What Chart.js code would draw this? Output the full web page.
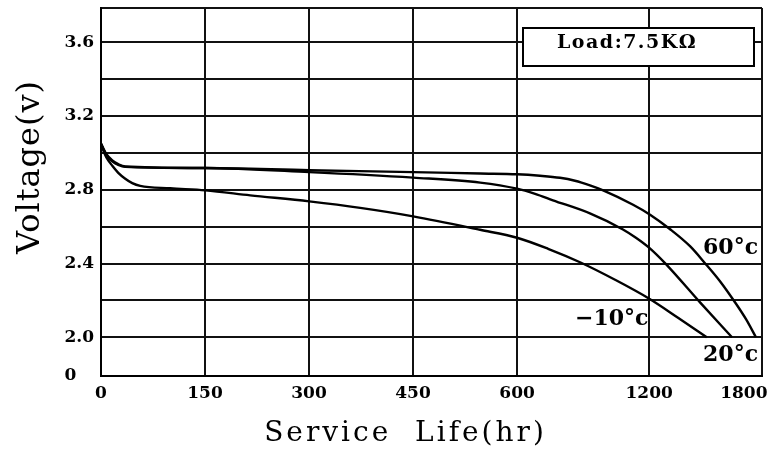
<!DOCTYPE html>
<html>
<head>
<meta charset="utf-8">
<script src="https://cdn.jsdelivr.net/npm/chart.js@4.4.1/dist/chart.umd.min.js"></script>
<style>
  html, body { margin: 0; padding: 0; background: #ffffff; }
  #wrap { width: 781px; height: 455px; position: relative; }
</style>
</head>
<body>
<div id="wrap"><canvas id="chart" width="781" height="455"></canvas></div>
<script>
// ---------------- data ----------------
const xTickHours  = [0, 150, 300, 450, 600, 1200, 1800];
const xTickLabels = ['0', '150', '300', '450', '600', '1200', '1800'];

const yTickValues = [2.0, 2.2, 2.4, 2.6, 2.8, 3.0, 3.2, 3.4, 3.6];
const yTickLabels = ['2.0', '', '2.4', '', '2.8', '', '3.2', '', '3.6'];
const yBreakLabel = '0';

const seriesNames = ['\u221210\u00b0c', '20\u00b0c', '60\u00b0c'];

const hoursM10 = [0, 3.3, 7.6, 16.3, 24.9, 35, 45.1, 56.6, 99.9, 150.4, 215.2, 300.3, 373.8, 450.2, 546.8, 600, 741, 886, 1045, 1201, 1383, 1565];
const voltsM10 = [3.05, 3.014, 2.977, 2.93, 2.892, 2.86, 2.836, 2.821, 2.808, 2.797, 2.77, 2.737, 2.702, 2.656, 2.583, 2.54, 2.48, 2.407, 2.312, 2.209, 2.106, 2.0];

const hours20 = [0, 3.3, 7.6, 16.3, 24.9, 35, 150.4, 300.3, 450.2, 546.8, 600, 682, 763, 931, 1081, 1140, 1201, 1302, 1524, 1725];
const volts20 = [3.05, 3.024, 2.99, 2.954, 2.935, 2.924, 2.918, 2.896, 2.866, 2.839, 2.806, 2.778, 2.743, 2.672, 2.585, 2.54, 2.485, 2.401, 2.188, 2.0];

const hours60 = [0, 3.3, 7.6, 16.3, 24.9, 35, 150.4, 300.3, 450.2, 546.8, 600, 704, 795, 863, 931, 991, 1127, 1206, 1333, 1459, 1554, 1649, 1744, 1814, 1877];
const volts60 = [3.05, 3.024, 2.994, 2.959, 2.939, 2.926, 2.918, 2.906, 2.896, 2.888, 2.884, 2.876, 2.865, 2.849, 2.824, 2.797, 2.719, 2.665, 2.586, 2.494, 2.402, 2.304, 2.19, 2.098, 2.0];

const loadText = 'Load:7.5K\u03a9';
const xTitle = 'Service  Life(hr)';
const yTitle = 'Voltage(v)';

// ---------------- scale layout (non-uniform time axis) ----------------
const X_SLOTS = [0, 1, 2, 3, 4, 5.27, 6.18];   // axis position of each labelled hour
const X_MAX = 6.355;
const Y_MIN = 1.79, Y_MAX = 3.786;

function hoursToAxis(h) {
  const n = xTickHours.length;
  let i = 0;
  while (i < n - 2 && h > xTickHours[i + 1]) i++;
  const h0 = xTickHours[i], h1 = xTickHours[i + 1];
  return X_SLOTS[i] + (h - h0) / (h1 - h0) * (X_SLOTS[i + 1] - X_SLOTS[i]);
}
function toPoints(hours, volts) {
  return hours.map((h, k) => ({ x: hoursToAxis(h), y: volts[k] }));
}

function patchTitle(scale, spacing, dx, dy) {
  if (scale._titlePatched) return;
  scale._titlePatched = true;
  const orig = scale.drawTitle;
  if (typeof orig !== 'function') return;
  scale.drawTitle = function () {
    const ctx = this.ctx;
    ctx.save();
    try { ctx.letterSpacing = spacing; } catch (e) {}
    ctx.translate(dx, dy);
    orig.apply(this, arguments);
    ctx.restore();
  };
}

const SERIF = "'DejaVu Serif', 'Liberation Serif', serif";

const notesPlugin = {
  id: 'curveNotes',
  afterDatasetsDraw(chart, args, opts) {
    const { ctx, chartArea, scales } = chart;
    const x = scales.x, y = scales.y;
    ctx.save();
    // curve labels
    ctx.font = 'bold 22px ' + SERIF;
    ctx.fillStyle = '#000';
    ctx.textAlign = 'center';
    ctx.textBaseline = 'middle';
    opts.items.forEach(it => {
      ctx.fillText(it.text, x.getPixelForValue(hoursToAxis(it.h)), y.getPixelForValue(it.v));
    });
    // load box
    const bw = 231, bh = 38;
    const bx = chartArea.right - 8 - bw, by = chartArea.top + 20;
    ctx.fillStyle = '#fff';
    ctx.fillRect(bx, by, bw, bh);
    ctx.lineWidth = 2;
    ctx.strokeStyle = '#000';
    ctx.strokeRect(bx, by, bw, bh);
    ctx.fillStyle = '#000';
    ctx.font = 'bold 19px ' + SERIF;
    try { ctx.letterSpacing = '1.5px'; } catch (e) {}
    ctx.textAlign = 'left';
    ctx.textBaseline = 'alphabetic';
    ctx.fillText(opts.load, bx + 34, by + 20);
    ctx.restore();
  }
};

const lineStyle = {
  borderColor: '#000',
  borderWidth: 2.4,
  pointRadius: 0,
  fill: false,
  cubicInterpolationMode: 'monotone'
};

new Chart(document.getElementById('chart'), {
  type: 'line',
  data: {
    datasets: [
      Object.assign({ label: seriesNames[0], data: toPoints(hoursM10, voltsM10) }, lineStyle),
      Object.assign({ label: seriesNames[1], data: toPoints(hours20, volts20) }, lineStyle),
      Object.assign({ label: seriesNames[2], data: toPoints(hours60, volts60) }, lineStyle)
    ]
  },
  options: {
    responsive: false,
    animation: false,
    devicePixelRatio: 1,
    layout: { padding: { left: 0, right: 19, top: 8, bottom: 0 } },
    plugins: {
      legend: { display: false },
      tooltip: { enabled: false },
      curveNotes: {
        load: loadText,
        items: [
          { text: seriesNames[2], h: 1716, v: 2.482 },
          { text: seriesNames[0], h: 1030, v: 2.10 },
          { text: seriesNames[1], h: 1716, v: 1.90 }
        ]
      }
    },
    scales: {
      x: {
        type: 'linear',
        min: 0,
        max: X_MAX,
        border: { display: true, color: '#000', width: 2 },
        grid: {
          lineWidth: 2,
          drawTicks: false,
          color: ctx => (ctx.index === X_SLOTS.length - 1 ? 'rgba(0,0,0,0)' : '#111')
        },
        afterBuildTicks: s => { s.ticks = X_SLOTS.concat([X_MAX]).map(v => ({ value: v })); },
        ticks: {
          autoSkip: false,
          maxRotation: 0,
          padding: 7,
          color: '#000',
          font: { family: SERIF, size: 17, weight: 'bold' },
          callback: (v, i) => (xTickLabels[i] !== undefined ? xTickLabels[i] : '')
        },
        title: {
          display: true,
          text: xTitle,
          color: '#000',
          font: { family: SERIF, size: 28 },
          padding: { top: 0, bottom: 4 }
        },
        afterFit: s => {
          s.height = 79;
          s.paddingLeft = 0;
          s.paddingRight = 0;
          patchTitle(s, '3px', -26, 0);
        }
      },
      y: {
        type: 'linear',
        min: Y_MIN,
        max: Y_MAX,
        border: { display: true, color: '#000', width: 2 },
        grid: { lineWidth: 2, drawTicks: false, color: '#111' },
        afterBuildTicks: s => { s.ticks = [Y_MIN].concat(yTickValues, [Y_MAX]).map(v => ({ value: v })); },
        ticks: {
          autoSkip: false,
          padding: 7,
          color: '#000',
          font: { family: SERIF, size: 17, weight: 'bold' },
          callback: (v, i) => {
            if (i === 0) return yBreakLabel + '\u2007\u2008';
            const t = yTickLabels[i - 1];
            return t !== undefined ? t : '';
          }
        },
        title: {
          display: true,
          text: yTitle,
          color: '#000',
          font: { family: SERIF, size: 32 },
          padding: { top: 11, bottom: 0 }
        },
        afterFit: s => {
          s.width = 101;
          s.paddingTop = 0;
          s.paddingBottom = 0;
          patchTitle(s, '1px', 0, -25);
        }
      }
    }
  },
  plugins: [notesPlugin]
});
</script>
</body>
</html>
